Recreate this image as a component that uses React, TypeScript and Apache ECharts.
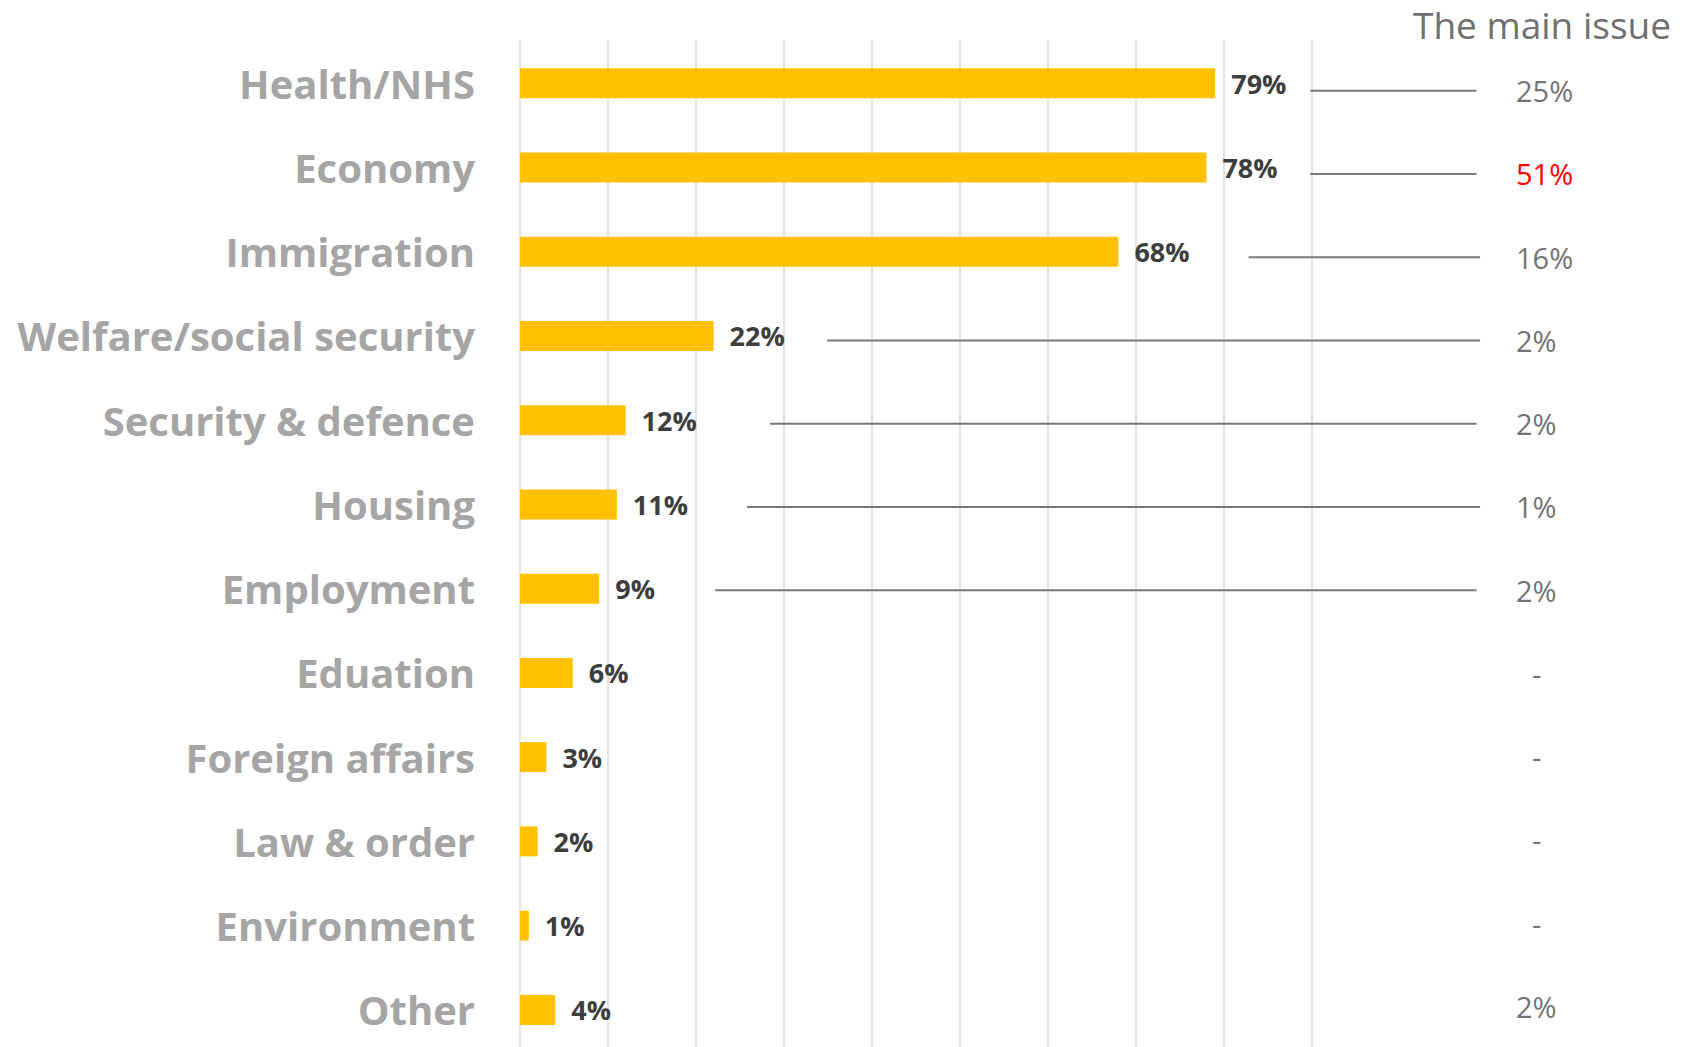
import React, { useEffect, useRef } from "react";
import * as echarts from "echarts";

const categories = [
  "Health/NHS",
  "Economy",
  "Immigration",
  "Welfare/social security",
  "Security & defence",
  "Housing",
  "Employment",
  "Eduation",
  "Foreign affairs",
  "Law & order",
  "Environment",
  "Other",
];
const values = [79, 78, 68, 22, 12, 11, 9, 6, 3, 2, 1, 4];
const mainIssue = ["25%", "51%", "16%", "2%", "2%", "1%", "2%", "-", "-", "-", "-", "2%"];
const highlightIndex = 1;
// connector lines (in % units of the value axis) for the first seven rows
const connectorStart = [89.8, 89.8, 82.8, 34.9, 28.4, 25.8, 22.2];
const connectorEnd = [108.7, 108.7, 109.1, 109.1, 108.7, 109.1, 108.7];

const FONT = "'Open Sans', 'Noto Sans', sans-serif";

export default function App() {
  const ref = useRef<HTMLDivElement>(null);
  useEffect(() => {
    if (!ref.current) return;
    const chart = echarts.init(ref.current, undefined, { renderer: "svg" });
    const connectors = connectorStart.map((s, i) => [s, connectorEnd[i], i]);
    chart.setOption({
      animation: false,
      backgroundColor: "#ffffff",
      title: {
        text: "The main issue",
        right: 15,
        top: 1,
        textStyle: { fontFamily: FONT, fontSize: 37, fontWeight: "normal", color: "#707070" },
      },
      grid: [
        { left: 520, right: 379, top: 41, bottom: 1 },
        { left: 520, right: 379, top: 49, bottom: 5 },
      ],
      xAxis: [
        {
          type: "value",
          gridIndex: 0,
          min: 0,
          max: 90,
          interval: 10,
          axisLabel: { show: false },
          axisLine: { show: false },
          axisTick: { show: false },
          splitLine: { show: true, lineStyle: { color: "#e2e2e2", width: 2 } },
        },
        {
          type: "value",
          gridIndex: 1,
          min: 0,
          max: 90,
          show: false,
          splitLine: { show: false },
        },
      ],
      yAxis: [
        {
          type: "category",
          gridIndex: 0,
          data: categories,
          inverse: true,
          axisLine: { show: false },
          axisTick: { show: false },
          axisLabel: {
            margin: 45,
            fontFamily: FONT,
            fontSize: 40,
            fontWeight: "bold",
            color: "#a5a5a5",
          },
        },
        {
          type: "category",
          gridIndex: 1,
          data: categories,
          inverse: true,
          position: "right",
          axisLine: { show: false },
          axisTick: { show: false },
          axisLabel: {
            margin: 204,
            align: "left",
            formatter: (_v: string, i: number) => {
              const t = mainIssue[i];
              if (i === highlightIndex) return `{red|${t}}`;
              if (t === "-") return `{dash|${t}}`;
              return `{n|${t}}`;
            },
            rich: {
              n: { fontFamily: FONT, fontSize: 29, color: "#737373" },
              red: { fontFamily: FONT, fontSize: 29, color: "#ff0000" },
              dash: { fontFamily: FONT, fontSize: 29, color: "#737373", padding: [0, 0, 0, 16] },
            },
          },
        },
      ],
      series: [
        {
          type: "bar",
          xAxisIndex: 0,
          yAxisIndex: 0,
          data: values,
          barWidth: 30,
          itemStyle: { color: "#ffc000" },
          label: {
            show: true,
            position: "right",
            distance: 16,
            formatter: "{c}%",
            fontFamily: FONT,
            fontSize: 27,
            fontWeight: "bold",
            color: "#3d3d3d",
          },
        },
        {
          type: "custom",
          xAxisIndex: 1,
          yAxisIndex: 1,
          clip: false,
          data: connectors,
          encode: { x: [0, 1], y: 2 },
          renderItem: (_params: any, api: any) => {
            const a = api.coord([api.value(0), api.value(2)]);
            const b = api.coord([api.value(1), api.value(2)]);
            return {
              type: "line",
              shape: { x1: a[0], y1: a[1], x2: b[0], y2: b[1] },
              style: { stroke: "#7a7a7a", lineWidth: 2 },
            };
          },
        },
      ],
    });
    return () => chart.dispose();
  }, []);
  return (
    <div
      style={{
        position: "absolute",
        left: 0,
        top: 0,
        width: 1691,
        height: 1047,
        overflow: "hidden",
        background: "#ffffff",
      }}
    >
      <div ref={ref} style={{ width: 1691, height: 1053 }} />
    </div>
  );
}
